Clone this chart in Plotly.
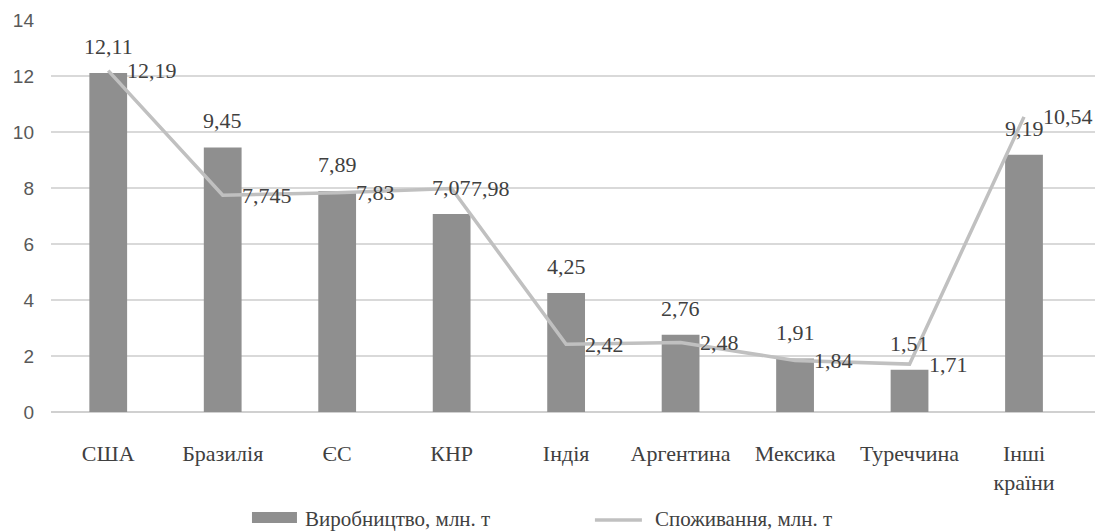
"""Виробництво та споживання: стовпчики + лінія, підписи даних з комою."""

import plotly.graph_objects as go

CATEGORIES = ["США", "Бразилія", "ЄС", "КНР", "Індія", "Аргентина", "Мексика", "Туреччина", "Інші<br>країни"]
PRODUCTION = [12.11, 9.45, 7.89, 7.07, 4.25, 2.76, 1.91, 1.51, 9.19]
CONSUMPTION = [12.19, 7.745, 7.83, 7.98, 2.42, 2.48, 1.84, 1.71, 10.54]
Y_TICKS = [0, 2, 4, 6, 8, 10, 12, 14]
NAME_PROD = "Виробництво, млн. т"
NAME_CONS = "Споживання, млн. т"

COLOR_BAR = "#8f8f8f"
COLOR_LINE = "#c0c0c0"
COLOR_TEXT = "#404040"
SERIF = "Liberation Serif, Times New Roman, serif"
LABEL_FONT = {"family": SERIF, "size": 22, "color": COLOR_TEXT}


def _fmt(value: float) -> str:
    return str(value).replace(".", ",")


fig = go.Figure()
fig.add_trace(
    go.Bar(
        x=CATEGORIES,
        y=PRODUCTION,
        name=NAME_PROD,
        marker_color=COLOR_BAR,
        marker_line_width=0,
    )
)
fig.add_trace(
    go.Scatter(
        x=CATEGORIES,
        y=CONSUMPTION,
        name=NAME_CONS,
        mode="lines",
        line={"color": COLOR_LINE, "width": 3.5},
    )
)

# Підписи: над стовпчиками і праворуч від точок лінії.
annotations = [
    {
        "x": cat,
        "y": val,
        "text": _fmt(val),
        "showarrow": False,
        "yanchor": "bottom",
        "yshift": 12,
        "font": LABEL_FONT,
    }
    for cat, val in zip(CATEGORIES, PRODUCTION)
]
annotations += [
    {
        "x": cat,
        "y": val,
        "text": _fmt(val),
        "showarrow": False,
        "xanchor": "left",
        "yanchor": "middle",
        "xshift": 17,
        "font": LABEL_FONT,
    }
    for cat, val in zip(CATEGORIES, CONSUMPTION)
]

# Легенда вручну (широкий прямокутник для стовпчиків, як у референсі).
legend_font = {"family": SERIF, "size": 21, "color": COLOR_TEXT}
annotations += [
    {
        "xref": "paper", "yref": "paper", "x": 0.2414, "y": -0.272,
        "xanchor": "left", "yanchor": "middle", "text": NAME_PROD,
        "showarrow": False, "font": legend_font,
    },
    {
        "xref": "paper", "yref": "paper", "x": 0.5766, "y": -0.272,
        "xanchor": "left", "yanchor": "middle", "text": NAME_CONS,
        "showarrow": False, "font": legend_font,
    },
]
shapes = [
    {
        "type": "rect", "xref": "paper", "yref": "paper",
        "x0": 0.1925, "x1": 0.2356, "y0": -0.2832, "y1": -0.2551,
        "fillcolor": COLOR_BAR, "line": {"width": 0},
    },
    {
        "type": "line", "xref": "paper", "yref": "paper",
        "x0": 0.521, "x1": 0.566, "y0": -0.2755, "y1": -0.2755,
        "line": {"color": COLOR_LINE, "width": 3.5},
    },
]

fig.update_layout(
    width=1120,
    height=532,
    paper_bgcolor="white",
    plot_bgcolor="white",
    margin={"l": 51, "r": 25, "t": 20, "b": 120},
    bargap=0.67,
    annotations=annotations,
    shapes=shapes,
    showlegend=False,
    xaxis={
        "tickfont": {"family": SERIF, "size": 22, "color": COLOR_TEXT},
        "ticklabelstandoff": 26,
        "showgrid": False,
        "showline": False,
        "ticks": "",
        "automargin": False,
    },
    yaxis={
        "range": [0, 14],
        "tickvals": Y_TICKS,
        "tickfont": {"family": "Liberation Sans, Arial, sans-serif", "size": 19, "color": "#595959"},
        "ticklabelstandoff": 16,
        "showgrid": True,
        "gridcolor": "#d9d9d9",
        "gridwidth": 1.5,
        "zeroline": True,
        "zerolinecolor": "#d0d0d0",
        "zerolinewidth": 2,
        "ticks": "",
        "automargin": False,
    },
)

# Прибрати стандартний відступ body, щоб фігура стала точно у вікно.
fig.write_html(
    "out.html",
    config={"displayModeBar": False},
    post_script="document.body.style.margin = '0';",
)
